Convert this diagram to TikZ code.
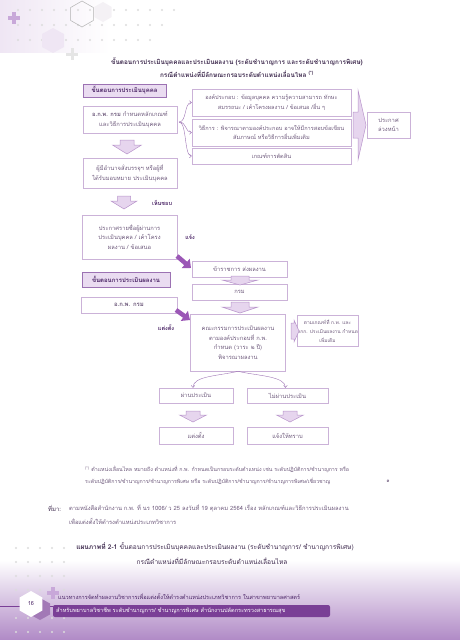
\documentclass[tikz,border=0pt]{standalone}
\usepackage{fontspec}
\setmainfont[Script=Thai]{Loma}
\usetikzlibrary{arrows.meta,calc}
\definecolor{boxc}{HTML}{CBB2D8}
\definecolor{txt}{HTML}{6E5A7C}
\definecolor{hdrc}{HTML}{9C72B3}
\definecolor{hdrf}{HTML}{EADCF1}
\definecolor{hdrt}{HTML}{4B2566}
\definecolor{arrc}{HTML}{B894CB}
\definecolor{arrf}{HTML}{E6D5EE}
\definecolor{solidp}{HTML}{9B57B6}
\definecolor{ttl}{HTML}{3E2A4E}
\definecolor{dotc}{HTML}{DCDCDC}
\definecolor{lav}{HTML}{EFE6F4}
\definecolor{plusc}{HTML}{C8A8D9}
\definecolor{barc}{HTML}{7A3F96}
\definecolor{bottomc}{HTML}{B08AC6}
\tikzset{
  box/.style={draw=boxc, line width=0.6pt, text=txt, align=center, inner sep=0pt, font=\fontsize{5.8}{9.6}\selectfont},
  hbox/.style={draw=hdrc, fill=hdrf, line width=0.6pt, text=hdrt, align=center, inner sep=0pt, font=\bfseries\fontsize{6}{9}\selectfont},
  harr/.style={draw=arrc, fill=arrf, line width=0.5pt, line join=miter},
  lbl/.style={text=hdrt, inner sep=0pt, font=\bfseries\fontsize{5.5}{7}\selectfont},
  fat/.style={line width=4.5pt, draw=solidp, -{Triangle[length=7pt,width=12pt]}},
  brace/.style={draw=hdrc, line width=0.4pt, -{To[length=2.5pt,width=4pt]}},
  plain/.style={inner sep=0pt, text=ttl, font=\fontsize{6}{9}\selectfont},
}
% hollow down arrow: name, cx, cy, head width, shaft width, length, head length
\newcommand\hdarr[7]{%
  \coordinate (#1) at (#2,#3);
  \filldraw[harr] ({#2-#5/2},{#3-#6/2}) -- ({#2+#5/2},{#3-#6/2}) -- ({#2+#5/2},{#3+#6/2-#7}) -- ({#2+#4/2},{#3+#6/2-#7}) -- (#2,{#3+#6/2}) -- ({#2-#4/2},{#3+#6/2-#7}) -- ({#2-#5/2},{#3+#6/2-#7}) -- cycle;}
\begin{document}
\begin{tikzpicture}[x=1pt,y=-1pt]
\useasboundingbox (0,0) rectangle (460,640);
% background decorations
\shade[left color=lav, right color=white] (0,0) rectangle (110,52);
\shade[top color=white, bottom color=bottomc] (0,560) rectangle (460,640);
\foreach \yy/\xm in {10/175,25/165,40/150}{
  \foreach \xx in {18,30,...,\xm}{\fill[dotc] (\xx,\yy) circle (1.1);}}
\foreach \yy in {548,562,576,590,618,632}{
  \foreach \xx in {16,28,40,52,64}{\fill[dotc] (\xx,\yy) circle (1.1);}}
\draw[gray!60, line width=0.5pt] (82,1) -- (93.3,7.5) -- (93.3,20.5) -- (82,27) -- (70.7,20.5) -- (70.7,7.5) -- cycle;
\fill[lav!80!gray!30] (103,2) -- (111.7,7) -- (111.7,17) -- (103,22) -- (94.3,17) -- (94.3,7) -- cycle;
\fill[lav] (53,28) -- (64,34) -- (64,47) -- (53,53) -- (42,47) -- (42,34) -- cycle;
\fill[plusc] (12,12) rectangle (16,24);
\fill[plusc] (8,16) rectangle (20,20);
\fill[gray!20] (70.5,48) rectangle (73.5,60);
\fill[gray!20] (66,52.5) rectangle (78,55.5);
% title
\node[plain, font=\bfseries\fontsize{6.4}{9}\selectfont] (t1) at (237,62) {ขั้นตอนการประเมินบุคคลและประเมินผลงาน (ระดับชำนาญการ และระดับชำนาญการพิเศษ)};
\node[plain, font=\bfseries\fontsize{6.4}{9}\selectfont] (t2) at (237,74) {กรณีตำแหน่งที่มีลักษณะกรอบระดับตำแหน่งเลื่อนไหล \textsuperscript{(*)}};
% part 1
\node[hbox, minimum width=83, minimum height=13] (h1) at (124.5,90.5) {ขั้นตอนการประเมินบุคคล};
\node[box, minimum width=94, minimum height=27] (a1) at (130,119.5) {\textbf{อ.ก.พ. กรม} กำหนดหลักเกณฑ์\\และวิธีการประเมินบุคคล};
\node[box, minimum width=159, minimum height=27, font=\fontsize{5.6}{9.6}\selectfont] (r1) at (271.5,102.5) {องค์ประกอบ : ข้อมูลบุคคล ความรู้ความสามารถ ทักษะ\\สมรรถนะ / เค้าโครงผลงาน / ข้อเสนอ /อื่น ๆ};
\node[box, minimum width=159, minimum height=27, font=\fontsize{5.6}{9.6}\selectfont] (r2) at (271.5,132.5) {วิธีการ : พิจารณาตามองค์ประกอบ อาจให้มีการสอบข้อเขียน\\สัมภาษณ์ หรือวิธีการอื่นเพิ่มเติม};
\node[box, minimum width=159, minimum height=16, font=\fontsize{5.6}{9.6}\selectfont] (r3) at (271.5,156) {เกณฑ์การตัดสิน};
\node[box, minimum width=43, minimum height=26] (pr) at (388.5,125) {ประกาศ\\ล่วงหน้า};
\coordinate (bs) at (179,122);
\draw[brace] (bs) .. controls (187,122) and (184,102.5) .. (r1.west);
\draw[brace] (bs) .. controls (187,122) and (185,132.5) .. (r2.west);
\draw[brace] (bs) .. controls (187,122) and (184,156) .. (r3.west);
\filldraw[harr] (353,112) -- (358,112) -- (358,90) -- (366,125) -- (358,160) -- (358,138) -- (353,138) -- cycle;
\hdarr{ar1}{127}{147}{29}{14}{14}{9}
\node[box, minimum width=94, minimum height=30] (a2) at (130,173) {ผู้มีอำนาจสั่งบรรจุฯ  หรือผู้ที่\\ได้รับมอบหมาย ประเมินบุคคล};
\hdarr{ar2}{124}{202.5}{26}{13}{13}{8}
\node[lbl, anchor=west] (l1) at (152,203) {เห็นชอบ};
\node[box, minimum width=95, minimum height=44] (a3) at (129.5,237) {ประกาศรายชื่อผู้ผ่านการ\\ประเมินบุคคล / เค้าโครง\\ผลงาน / ข้อเสนอ};
\node[lbl] (l2) at (190,237) {แจ้ง};
% part 2
\node[hbox, minimum width=88, minimum height=15] (h2) at (126,279.5) {ขั้นตอนการประเมินผลงาน};
\node[box, minimum width=96, minimum height=16, font=\bfseries\fontsize{6}{9}\selectfont] (a4) at (129,305) {อ.ก.พ. กรม};
\node[box, minimum width=95, minimum height=16] (s1) at (239.5,269) {ข้าราชการ ส่งผลงาน};
\node[box, minimum width=95, minimum height=16] (s2) at (239.5,292) {กรม};
\hdarr{ar3}{240}{280.5}{36}{18}{9}{5}
\node[box, minimum width=95, minimum height=57] (k) at (238,342.5) {คณะกรรมการประเมินผลงาน\\ตามองค์ประกอบที่ ก.พ.\\กำหนด (วาระ ๒ ปี)\\พิจารณาผลงาน};
\hdarr{ar4}{240}{307.5}{36}{18}{11}{6}
\coordinate (f1s) at (177,256);
\coordinate (f1e) at (191,268);
\draw[fat] (f1s) -- (f1e);
\coordinate (f2s) at (176,310);
\coordinate (f2e) at (190,320);
\draw[fat] (f2s) -- (f2e);
\node[lbl] (l3) at (166,328) {แต่งตั้ง};
\node[box, minimum width=60, minimum height=31, font=\fontsize{4.9}{9}\selectfont] (g) at (327.5,330.5) {ตามเกณฑ์ที่ ก.พ. และ\\คกก. ประเมินผลงาน กำหนด\\เพิ่มเติม};
\filldraw[harr] (291,323) -- (294,323) -- (294,320) -- (299,331) -- (294,342) -- (294,339) -- (291,339) -- cycle;
\coordinate (ar5) at (295,331);
\node[box, minimum width=74, minimum height=15] (p1) at (196,395.5) {ผ่านประเมิน};
\node[box, minimum width=81, minimum height=15] (p2) at (287.5,395.5) {ไม่ผ่านประเมิน};
\draw[brace] (k.south) .. controls (218,376) and (193,376) .. ($(p1.north)+(-3,0)$);
\draw[brace] (k.south) .. controls (258,376) and (285,376) .. ($(p2.north)+(-2,0)$);
\hdarr{ar6}{193}{416.5}{27}{14}{11}{7}
\hdarr{ar7}{290}{416.5}{27}{14}{11}{7}
\node[box, minimum width=74, minimum height=17] (q1) at (196,435.5) {แต่งตั้ง};
\node[box, minimum width=81, minimum height=17] (q2) at (287.5,435.5) {แจ้งให้ทราบ};
% footnote
\node[plain, anchor=west, text=txt, font=\fontsize{5.3}{8}\selectfont] (fn1) at (85,469) {\textsuperscript{(*)} ตำแหน่งเลื่อนไหล หมายถึง ตำแหน่งที่ ก.พ. กำหนดเป็นกรอบระดับตำแหน่ง เช่น ระดับปฏิบัติการ/ชำนาญการ  หรือ};
\node[plain, anchor=west, text=txt, font=\fontsize{5.3}{8}\selectfont] (fn2) at (85,481) {ระดับปฏิบัติการ/ชำนาญการ/ชำนาญการพิเศษ  หรือ ระดับปฏิบัติการ/ชำนาญการ/ชำนาญการพิเศษ/เชี่ยวชาญ};
\node[plain, text=txt, font=\fontsize{5.3}{8}\selectfont] (fn3) at (388,481) {๑};
% source
\node[plain, anchor=west, font=\fontsize{6}{8}\selectfont] (src0) at (48,508) {ที่มา:};
\node[plain, anchor=west, text=txt, font=\fontsize{5.8}{8}\selectfont] (src1) at (69,508) {ตามหนังสือสำนักงาน ก.พ. ที่ นร 1006/ ว 25 ลงวันที่ 19 ตุลาคม 2564 เรื่อง หลักเกณฑ์และวิธีการประเมินผลงาน};
\node[plain, anchor=west, text=txt, font=\fontsize{5.8}{8}\selectfont] (src2) at (69,521) {เพื่อแต่งตั้งให้ดำรงตำแหน่งประเภทวิชาการ};
% caption
\node[plain, font=\fontsize{6.6}{9}\selectfont] (c1) at (215,547) {\textbf{แผนภาพที่ 2-1} ขั้นตอนการประเมินบุคคลและประเมินผลงาน (ระดับชำนาญการ/ ชำนาญการพิเศษ)};
\node[plain, font=\fontsize{6.6}{9}\selectfont] (c2) at (212,561) {กรณีตำแหน่งที่มีลักษณะกรอบระดับตำแหน่งเลื่อนไหล};
% footer
\fill[plusc] (50.5,587) rectangle (54.5,599);
\fill[plusc] (46.5,591) rectangle (58.5,595);
\draw[barc, line width=0.8pt] (0,606) -- (53,606);
\fill[barc, rounded corners=2pt] (53,605) rectangle (330,617);
\fill[barc!70] (40,598) -- (50,603.5) -- (50,614.5) -- (40,620) -- (30,614.5) -- (30,603.5) -- cycle;
\fill[white] (31,591) -- (42.3,597.5) -- (42.3,610.5) -- (31,617) -- (19.7,610.5) -- (19.7,597.5) -- cycle;
\node[plain, text=hdrt, font=\fontsize{5.5}{7}\selectfont] (pg) at (31,604) {16};
\node[plain, anchor=west, text=hdrt, font=\fontsize{5.6}{7}\selectfont] (ft1) at (58,597) {แนวทางการจัดทำผลงานวิชาการเพื่อแต่งตั้งให้ดำรงตำแหน่งประเภทวิชาการ ในสาขาพยาบาลศาสตร์};
\node[plain, anchor=west, text=white, font=\fontsize{5.6}{7}\selectfont] (ft2) at (56,611) {สำหรับพยาบาลวิชาชีพ ระดับชำนาญการ/ ชำนาญการพิเศษ สำนักงานปลัดกระทรวงสาธารณสุข};
\end{tikzpicture}
\end{document}
